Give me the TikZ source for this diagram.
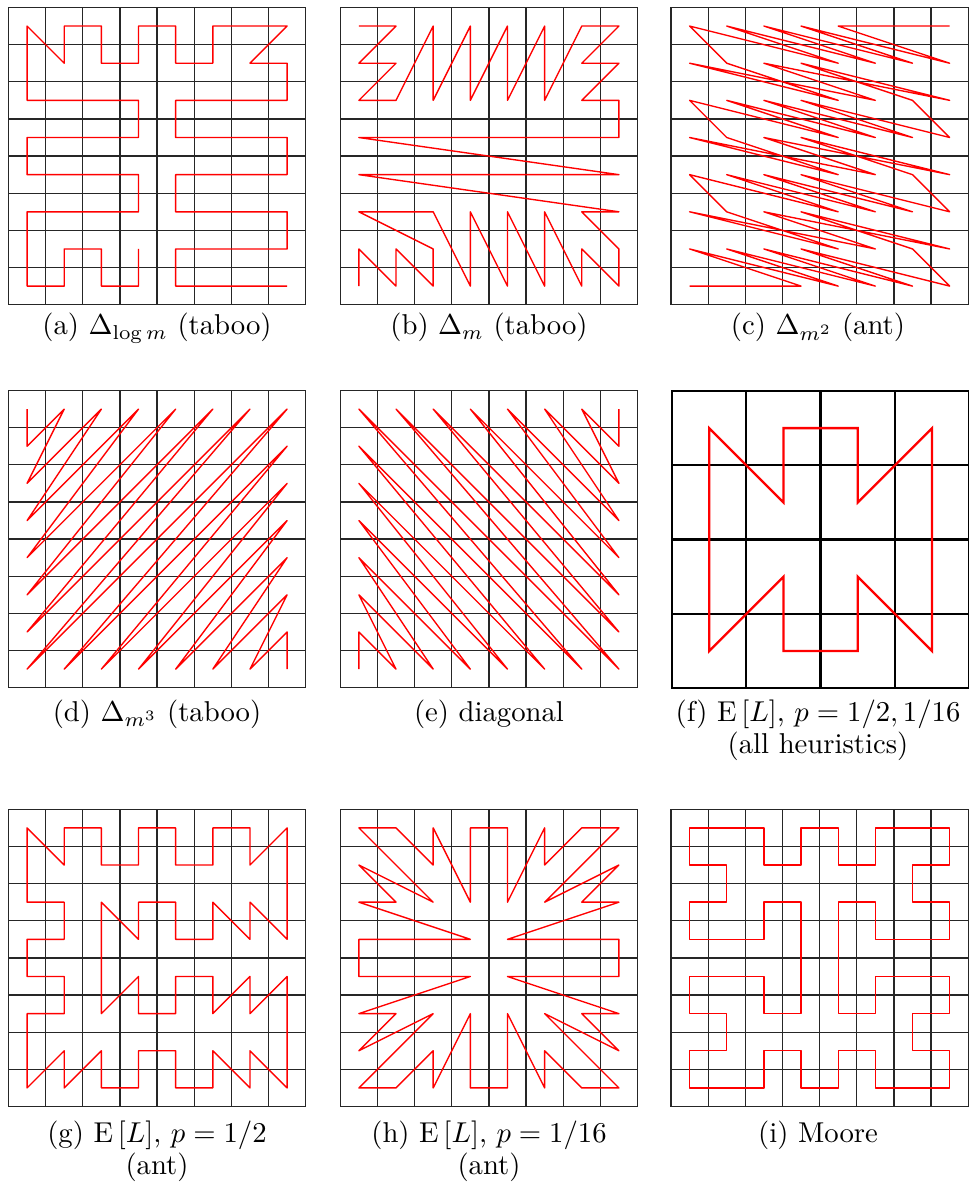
\documentclass[tikz,border=0pt]{standalone}
\usetikzlibrary{calc}
\tikzset{
  gridl/.style={line width=0.42pt, black!85},
  curve/.style={line width=0.48pt, red, line join=round},
  gridlf/.style={line width=0.8pt, black},
  curvef/.style={line width=0.8pt, red},
  capt/.style={font=\fontsize{10}{12}\selectfont, inner sep=0pt, anchor=base}
}
\newcommand\gridbox[3]{%
  \begin{scope}[shift={(#1,#2)}, x=12.943pt, y=-12.943pt]
    \foreach \k in {0,...,8}{\draw[gridl] (\k,0) -- (\k,8); \draw[gridl] (0,\k) -- (8,\k);}
    \draw[gridl] (0,0) rectangle (8,8);
    \draw[curve, shift={(0.5,0.5)}] #3;
  \end{scope}}
\begin{document}
\begin{tikzpicture}[x=0.3484pt, y=-0.3484pt]
\useasboundingbox (0,0) rectangle (968,1189);
% (a)
\gridbox{8.5}{7.5}{(3,6)--(3,7)--(2,7)--(2,6)--(1,6)--(1,7)--(0,7)--(0,5)--(3,5)--(3,4)--(0,4)--(0,3)--(3,3)--(3,2)--(0,2)--(0,0)--(1,1)--(1,0)--(2,0)--(2,1)--(3,1)--(3,0)--(4,0)--(4,1)--(5,1)--(5,0)--(7,0)--(6,1)--(7,1)--(7,2)--(4,2)--(4,3)--(7,3)--(7,4)--(4,4)--(4,5)--(7,5)--(7,6)--(4,6)--(4,7)--(7,7)}
% (b)
\gridbox{340.3}{7.5}{(0,0)--(1,0)--(0,1)--(1,1)--(0,2)--(1,2)--(2,0)--(2,2)--(3,0)--(3,2)--(4,0)--(4,2)--(5,0)--(5,2)--(6,0)--(7,0)--(6,1)--(7,1)--(6,2)--(7,2)--(7,3)--(0,3)--(7,4)--(0,4)--(7,5)--(6,5)--(7,6)--(7,7)--(6,6)--(6,7)--(5,5)--(5,7)--(4,5)--(4,7)--(3,5)--(3,7)--(2,5)--(0,5)--(2,6)--(2,7)--(1,6)--(1,7)--(0,6)--(0,7)}
% (c)
\gridbox{671}{7.5}{(7,0)--(4,0)--(7,1)--(3,0)--(6,1)--(2,0)--(5,1)--(1,0)--(4,1)--(0,0)--(1,1)--(4,2)--(0,1)--(5,2)--(2,1)--(7,2)--(3,1)--(6,2)--(7,3)--(3,2)--(6,3)--(2,2)--(5,3)--(1,2)--(4,3)--(0,2)--(1,3)--(4,4)--(0,3)--(5,4)--(2,3)--(7,4)--(3,3)--(6,4)--(7,5)--(3,4)--(6,5)--(2,4)--(5,5)--(1,4)--(4,5)--(0,4)--(1,5)--(4,6)--(0,5)--(5,6)--(2,5)--(7,6)--(3,5)--(6,6)--(7,7)--(3,6)--(6,7)--(2,6)--(5,7)--(1,6)--(4,7)--(0,6)--(3,7)--(0,7)}
% (d)
\gridbox{8.5}{390.5}{(0,0)--(0,1)--(1,0)--(0,2)--(2,0)--(0,3)--(3,0)--(0,4)--(4,0)--(0,5)--(5,0)--(0,6)--(6,0)--(0,7)--(7,0)--(1,7)--(7,1)--(2,7)--(7,2)--(3,7)--(7,3)--(4,7)--(7,4)--(5,7)--(7,5)--(6,7)--(7,6)--(7,7)}
% (e)
\gridbox{340.3}{390.5}{(0,7)--(0,6)--(1,7)--(0,5)--(2,7)--(0,4)--(3,7)--(0,3)--(4,7)--(0,2)--(5,7)--(0,1)--(6,7)--(0,0)--(7,7)--(1,0)--(7,6)--(2,0)--(7,5)--(3,0)--(7,4)--(4,0)--(7,3)--(5,0)--(7,2)--(6,0)--(7,1)--(7,0)}
% (f)
\begin{scope}[shift={(672,391)}, x=25.886pt, y=-25.886pt]
  \foreach \k in {0,...,4}{\draw[gridlf] (\k,0) -- (\k,4); \draw[gridlf] (0,\k) -- (4,\k);}
  \draw[gridlf] (0,0) rectangle (4,4);
  \draw[curvef, shift={(0.5,0.5)}] (0,0)--(1,1)--(1,0)--(2,0)--(2,1)--(3,0)--(3,3)--(2,2)--(2,3)--(1,3)--(1,2)--(0,3)--cycle;
\end{scope}
% (g)
\gridbox{8.5}{809.3}{(0,0)--(1,1)--(1,0)--(2,0)--(2,1)--(3,1)--(3,0)--(4,0)--(4,1)--(5,1)--(5,0)--(6,0)--(6,1)--(7,0)--(7,3)--(6,2)--(6,3)--(5,2)--(5,3)--(4,3)--(4,2)--(3,2)--(3,3)--(2,2)--(2,5)--(3,4)--(3,5)--(4,5)--(4,4)--(5,4)--(5,5)--(6,4)--(6,5)--(7,4)--(7,7)--(6,6)--(6,7)--(5,6)--(5,7)--(4,7)--(4,6)--(3,6)--(3,7)--(2,7)--(2,6)--(1,7)--(1,6)--(0,7)--(0,5)--(1,5)--(1,4)--(0,4)--(0,3)--(1,3)--(1,2)--(0,2)--cycle}
% (h)
\gridbox{340.3}{809.3}{(0,0)--(1,0)--(2,1)--(2,0)--(3,2)--(3,0)--(4,0)--(4,2)--(5,0)--(5,1)--(6,0)--(7,0)--(5,2)--(7,1)--(6,2)--(7,2)--(4,3)--(7,3)--(7,4)--(4,4)--(7,5)--(6,5)--(7,6)--(5,5)--(7,7)--(6,7)--(5,6)--(5,7)--(4,5)--(4,7)--(3,7)--(3,5)--(2,7)--(2,6)--(1,7)--(0,7)--(2,5)--(0,6)--(1,5)--(0,5)--(3,4)--(0,4)--(0,3)--(3,3)--(0,2)--(1,2)--(0,1)--(2,2)--cycle}
% (i)
\gridbox{671}{809.3}{(3,7)--(3,6)--(2,6)--(2,7)--(0,7)--(0,6)--(1,6)--(1,5)--(0,5)--(0,4)--(2,4)--(2,5)--(3,5)--(3,2)--(2,2)--(2,3)--(0,3)--(0,2)--(1,2)--(1,1)--(0,1)--(0,0)--(2,0)--(2,1)--(3,1)--(3,0)--(4,0)--(4,1)--(5,1)--(5,0)--(7,0)--(7,1)--(6,1)--(6,2)--(7,2)--(7,3)--(5,3)--(5,2)--(4,2)--(4,5)--(5,5)--(5,4)--(7,4)--(7,5)--(6,5)--(6,6)--(7,6)--(7,7)--(5,7)--(5,6)--(4,6)--(4,7)--cycle}
% captions
\node[capt] (capa) at (157,335) {(a) $\Delta_{\log m}$ (taboo)};
\node[capt] (capb) at (489,335) {(b) $\Delta_{m}$ (taboo)};
\node[capt] (capc) at (818,335) {(c) $\Delta_{m^2}$ (ant)};
\node[capt] (capd) at (157,721) {(d) $\Delta_{m^3}$ (taboo)};
\node[capt] (cape) at (489,721) {(e) diagonal};
\node[capt] (capf) at (818,721) {(f) $\mathrm{E}\left[L\right]$, $p=1/2, 1/16$};
\node[capt] (capf2) at (818,753) {(all heuristics)};
\node[capt] (capg) at (157,1142) {(g) $\mathrm{E}\left[L\right]$, $p=1/2$};
\node[capt] (capg2) at (157,1174.5) {(ant)};
\node[capt] (caph) at (489,1142) {(h) $\mathrm{E}\left[L\right]$, $p=1/16$};
\node[capt] (caph2) at (489,1174.5) {(ant)};
\node[capt] (capi) at (818,1142) {(i) Moore};
\end{tikzpicture}
\end{document}
